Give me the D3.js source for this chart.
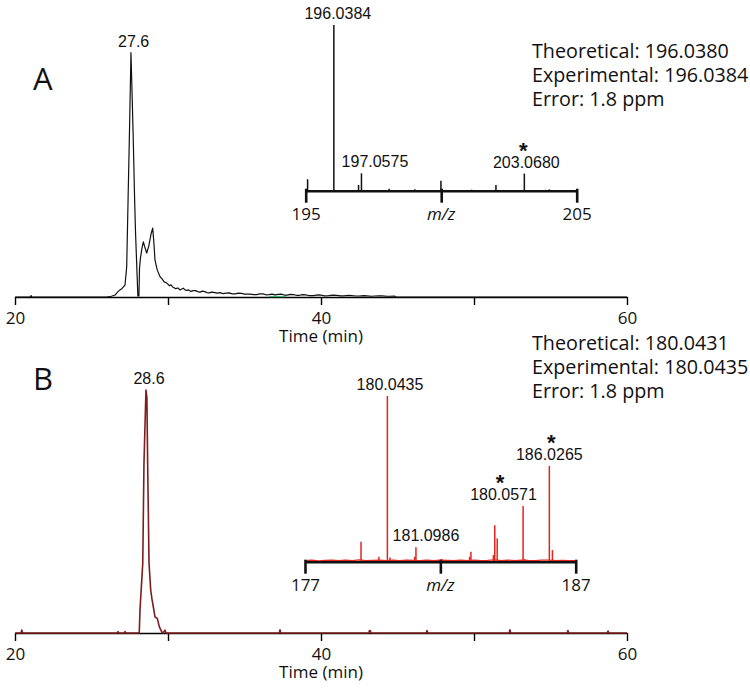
<!DOCTYPE html>
<html><head><meta charset="utf-8">
<script src="https://cdn.jsdelivr.net/npm/d3@7"></script>
<style>body{margin:0;background:#fff}</style>
</head><body>
<svg id="chart" width="750" height="693"></svg>
<script>
// ---------------- DATA ----------------
const timeTicks = [20, 30, 40, 50, 60];
const timeTickLabels = ["20", "", "40", "", "60"];

// Panel A chromatogram (time in min, relative intensity %)
const timeA = [20.0, 21.0, 21.05, 21.1, 26.0, 26.3, 26.54, 26.7, 26.86, 27.0, 27.19, 27.3, 27.39, 27.48, 27.58,
  27.72, 27.82, 27.88, 27.96, 28.03, 28.10, 28.14, 28.2, 28.3, 28.39, 28.48, 28.61, 28.75, 28.9, 29.0, 29.08,
  29.15, 29.3, 29.48, 29.6, 29.75, 29.92, 30.1, 30.2, 30.3, 30.4, 30.5, 30.65, 30.78, 30.9, 31.0, 31.1, 31.2,
  31.35, 31.5, 31.65, 31.8, 31.95, 32.09, 32.25, 32.4, 32.55, 32.7, 32.85, 33.0, 33.2, 33.4, 33.6, 33.8, 34.0,
  34.2, 34.4, 34.6, 34.8, 35.0, 35.36, 35.6, 35.8, 36.0, 36.2, 36.4, 36.6, 36.8, 37.0, 37.2, 37.4, 37.6, 37.8,
  38.0, 38.2, 38.4, 38.6, 38.8, 39.0, 39.2, 39.5, 39.8, 40.0, 40.2, 40.5, 40.8, 41.0, 41.3, 41.5, 41.8, 42.0,
  42.3, 42.5, 42.8, 43.0, 43.3, 43.5, 43.8, 44.0, 44.3, 44.5, 44.8, 44.9, 60.0];
const intensityA = [0, 0, 0.6, 0, 0, 0.3, 0.8, 2.0, 2.9, 3.5, 4.9, 12.4, 39.7, 67, 100,
  67, 39.7, 26, 12.4, 0.4, 0.4, 12, 16, 20, 22.6, 20.5, 18, 21, 26, 28.2, 22,
  15.1, 11, 8.3, 7.5, 6.2, 5.7, 4.6, 5.0, 4.1, 3.8, 3.4, 3.7, 2.9, 3.3, 3.6, 3.0, 2.7,
  2.9, 2.3, 2.6, 2.6, 2.2, 2.0, 2.4, 2.2, 1.8, 1.7, 2.0, 1.9, 1.6, 1.8, 1.4, 1.6, 1.7,
  1.3, 1.3, 1.6, 1.5, 1.2, 1.2, 1.0, 1.0, 1.3, 1.3, 0.9, 1.0, 1.2, 0.9, 1.1, 1.2, 0.8, 0.8,
  1.1, 1.0, 0.7, 0.7, 1.0, 0.9, 0.6, 0.6, 0.9, 0.8, 0.5, 0.6, 0.8, 0.7, 0.5, 0.5, 0.7, 0.6,
  0.4, 0.4, 0.6, 0.5, 0.3, 0.4, 0.5, 0.5, 0.3, 0.3, 0.4, 0, 0];
// small green trace segment on the baseline of panel A
const timeAgreen = [36.6, 37.7];
const intensityAgreen = [0.2, 0.2];

// Panel B chromatogram
const timeB = [20.0, 20.4, 20.44, 20.5, 26.68, 26.73, 26.78, 27.15, 27.19, 27.24, 28.12, 28.17, 28.35, 28.43, 28.56,
  28.62, 28.67, 28.76, 28.87, 28.95, 29.04, 29.15, 29.3, 29.43, 29.59, 29.69, 29.8, 29.87, 37.27, 37.32, 37.37,
  43.12, 43.17, 43.22, 43.28, 46.88, 46.93, 46.98, 52.3, 52.35, 52.4, 56.09, 56.14, 56.19, 58.71, 58.76, 58.81, 60.0];
const intensityB = [0, 0, 1.2, 0, 0, 0.6, 0, 0, 0.6, 0, 0, 9.5, 28.7, 70, 100,
  97, 69.8, 28.7, 17.7, 14, 10.8, 6.6, 6.0, 2.6, 0.5, 0, 1.2, 0, 0, 1.3, 0,
  0, 1.0, 0.9, 0, 0, 1.0, 0, 0, 1.3, 0, 0, 1.0, 0, 0, 0.8, 0, 0];

const apexA = {time: 27.6, label: "27.6"};
const apexB = {time: 28.6, label: "28.6"};

// Inset A mass spectrum (m/z, relative %)
const mzA = [195.07, 196.0384, 196.95, 197.0575, 198.08, 199.03, 199.99, 201.12, 202.02, 203.068, 203.99];
const relA = [6.9, 100, 3.5, 10.5, 1.2, 0.9, 6.0, 0.6, 3.4, 10.3, 0.8];
const mzTicksA = [195, 200, 205];

// Inset B mass spectrum
const mzB = [179.07, 179.73, 180.0435, 180.14, 181.05, 181.0986, 182.05, 183.08, 183.13, 183.96, 184.01, 184.10,
  185.057, 185.12, 186.0265, 186.14];
const relB = [12.1, 3, 100, 2.5, 3, 8.7, 1.6, 3, 6, 4, 22, 14, 33.6, 1.5, 57.8, 7];
const noiseMzB = [177, 177.25, 177.5, 177.75, 178, 178.25, 178.5, 178.75, 179, 179.25, 179.5, 179.75, 180, 180.25,
  180.5, 180.75, 181, 181.25, 181.5, 181.75, 182, 182.25, 182.5, 182.75, 183, 183.25, 183.5, 183.75, 184, 184.25,
  184.5, 184.75, 185, 185.25, 185.5, 185.75, 186, 186.25, 186.5, 186.75, 187];
const noiseRelB = [0.6, 0.9, 0.5, 0.8, 1.0, 0.6, 0.9, 0.7, 1.1, 0.6, 0.8, 1.0, 0.7, 0.9, 0.6, 1.0, 0.8, 0.7, 1.0,
  0.6, 0.9, 0.8, 0.6, 1.0, 0.7, 0.9, 0.6, 0.8, 1.1, 0.7, 0.9, 0.6, 1.0, 0.8, 0.7, 0.9, 1.0, 0.6, 0.8, 0.7, 0.6];
const mzTicksB = [177, 182, 187];

// Peak annotations
const peakLabelsA = [
  {mz: 196.0384, rel: 100, text: "196.0384", star: false},
  {mz: 197.0575, rel: 10.5, text: "197.0575", star: false},
  {mz: 203.068, rel: 10.3, text: "203.0680", star: true}
];
const peakLabelsB = [
  {mz: 180.0435, rel: 100, text: "180.0435", star: false},
  {mz: 181.0986, rel: 8.7, text: "181.0986", star: false},
  {mz: 185.057, rel: 33.6, text: "180.0571", star: true},
  {mz: 186.0265, rel: 57.8, text: "186.0265", star: true}
];

const infoA = ["Theoretical: 196.0380", "Experimental: 196.0384", "Error: 1.8 ppm"];
const infoB = ["Theoretical: 180.0431", "Experimental: 180.0435", "Error: 1.8 ppm"];

// ---------------- LAYOUT / STYLE ----------------
const fArial = "'Liberation Sans', Arial, sans-serif";
const fMyriad = "'Open Sans', sans-serif";
const labelDxA = [4, 13.5, 2];
const labelDxB = [2.6, 10, -19.6, 0];
const starDxA = [0, 0, -1];
const starDxB = [0, 0, -23, 2];

const svg = d3.select("#chart");
svg.append("rect").attr("width", 750).attr("height", 693).attr("fill", "#fff");

// font size for the info block so that the first line spans ~197 px
const probe = svg.append("text").attr("font-family", fMyriad).attr("font-size", 20).text(infoA[0]);
const infoSize = Math.min(20.5, 20 * 197 / probe.node().getComputedTextLength());
probe.remove();

const x = d3.scaleLinear().domain([20, 60]).range([15, 627]);

function mainPanel(cfg) {
  const y = d3.scaleLinear().domain([0, 100]).range([cfg.axisY, cfg.topY]);
  const g = svg.append("g");
  const ax = d3.axisBottom(x).tickValues(timeTicks)
    .tickFormat((d, i) => timeTickLabels[i]).tickSize(8).tickSizeOuter(0).tickPadding(7);
  const axg = g.append("g").attr("transform", `translate(0,${cfg.axisY})`).call(ax);
  axg.select(".domain").attr("stroke", "#000").attr("stroke-width", 1.4);
  axg.selectAll(".tick line").attr("stroke", "#000").attr("stroke-width", 1.4);
  axg.selectAll(".tick text").attr("font-family", fMyriad).attr("font-size", 17).attr("fill", "#111");
  axg.selectAll(".tick text").filter(function () { return this.textContent === ""; }).remove();
  g.append("text").attr("x", x(40)).attr("y", cfg.axisY + 45).attr("text-anchor", "middle")
    .attr("font-family", fMyriad).attr("font-size", 17).attr("fill", "#111").text("Time (min)");
  const line = d3.line().x(d => x(d[0])).y(d => y(d[1]));
  if (cfg.extra) {
    g.append("path").attr("d", line(d3.zip(cfg.extra.t, cfg.extra.v))).attr("fill", "none")
      .attr("stroke", cfg.extra.color).attr("stroke-width", 1.3);
  }
  g.append("path").attr("d", line(d3.zip(cfg.t, cfg.v))).attr("fill", "none")
    .attr("stroke", cfg.color).attr("stroke-width", cfg.width).attr("stroke-linejoin", "round");
  g.append("text").attr("x", x(cfg.apex.time) + 2.4).attr("y", cfg.topY - 6).attr("text-anchor", "middle")
    .attr("font-family", fArial).attr("font-size", 16).attr("fill", "#111").text(cfg.apex.label);
  g.append("text").attr("x", 33).attr("y", cfg.letterY).attr("font-family", fMyriad).attr("font-size", 31)
    .attr("fill", "#111").text(cfg.letter);
  cfg.info.forEach((s, i) => {
    g.append("text").attr("x", 532).attr("y", cfg.infoY + i * 24).attr("font-family", fMyriad)
      .attr("font-size", infoSize).attr("fill", "#111").text(s);
  });
}

mainPanel({axisY: 297, topY: 52.7, t: timeA, v: intensityA, color: "#111", width: 1.2,
  extra: {t: timeAgreen, v: intensityAgreen, color: "#3cb371"},
  apex: apexA, letter: "A", letterY: 90, info: infoA, infoY: 57.5});
mainPanel({axisY: 633, topY: 390, t: timeB, v: intensityB, color: "#7e1d1d", width: 1.6,
  apex: apexB, letter: "B", letterY: 390, info: infoB, infoY: 350});

function inset(cfg) {
  const xm = d3.scaleLinear().domain(cfg.domain).range([cfg.x0, cfg.x1]);
  const y = d3.scaleLinear().domain([0, 100]).range([cfg.axisY, cfg.topY]);
  const g = svg.append("g");
  if (cfg.noiseMz) {
    const line = d3.line().x(d => xm(d[0])).y(d => y(d[1]));
    g.append("path").attr("d", line(d3.zip(cfg.noiseMz, cfg.noiseRel))).attr("fill", "none")
      .attr("stroke", cfg.color).attr("stroke-width", 1.2);
  }
  g.selectAll("line.pk").data(d3.zip(cfg.mz, cfg.rel)).join("line").attr("class", "pk")
    .attr("x1", d => xm(d[0])).attr("x2", d => xm(d[0]))
    .attr("y1", y(0)).attr("y2", d => y(d[1]))
    .attr("stroke", cfg.color).attr("stroke-width", 1.5);
  const ax = d3.axisBottom(xm).tickValues(cfg.ticks)
    .tickFormat((d, i) => i === 1 ? "" : String(d)).tickSize(12).tickSizeOuter(0).tickPadding(5);
  const axg = g.append("g").attr("transform", `translate(0,${cfg.axisY})`).call(ax);
  axg.select(".domain").attr("stroke", "#111").attr("stroke-width", 2.4);
  axg.selectAll(".tick line").attr("stroke", "#111").attr("stroke-width", 2.6).attr("y1", -2);
  axg.selectAll(".tick text").attr("font-family", fMyriad).attr("font-size", 17).attr("fill", "#111");
  axg.selectAll(".tick text").filter(function () { return this.textContent === ""; }).remove();
  g.append("text").attr("x", xm(cfg.ticks[1])).attr("y", cfg.axisY + 29).attr("text-anchor", "middle")
    .attr("font-family", fMyriad).attr("font-size", 17).attr("font-style", "italic").attr("fill", "#111")
    .text("m/z");
  cfg.labels.forEach((p, i) => {
    const ly = y(p.rel) - 6;
    const t = g.append("text").attr("text-anchor", "middle").attr("font-family", fArial)
      .attr("font-size", 16).attr("fill", "#111");
    if (p.star) {
      t.append("tspan").attr("x", xm(p.mz) + cfg.starDx[i]).attr("y", ly - 10)
        .attr("font-weight", "bold").attr("font-size", 22).text("*");
    }
    t.append("tspan").attr("x", xm(p.mz) + cfg.labelDx[i]).attr("y", ly).text(p.text);
  });
}

inset({domain: [195, 205], x0: 305.7, x1: 576.7, axisY: 190.7, topY: 25, mz: mzA, rel: relA, color: "#111",
  ticks: mzTicksA, labels: peakLabelsA, labelDx: labelDxA, starDx: starDxA});
inset({domain: [177, 187], x0: 305, x1: 575.7, axisY: 561.7, topY: 396, mz: mzB, rel: relB, color: "#e3241c",
  noiseMz: noiseMzB, noiseRel: noiseRelB,
  ticks: mzTicksB, labels: peakLabelsB, labelDx: labelDxB, starDx: starDxB});
</script>
</body></html>
